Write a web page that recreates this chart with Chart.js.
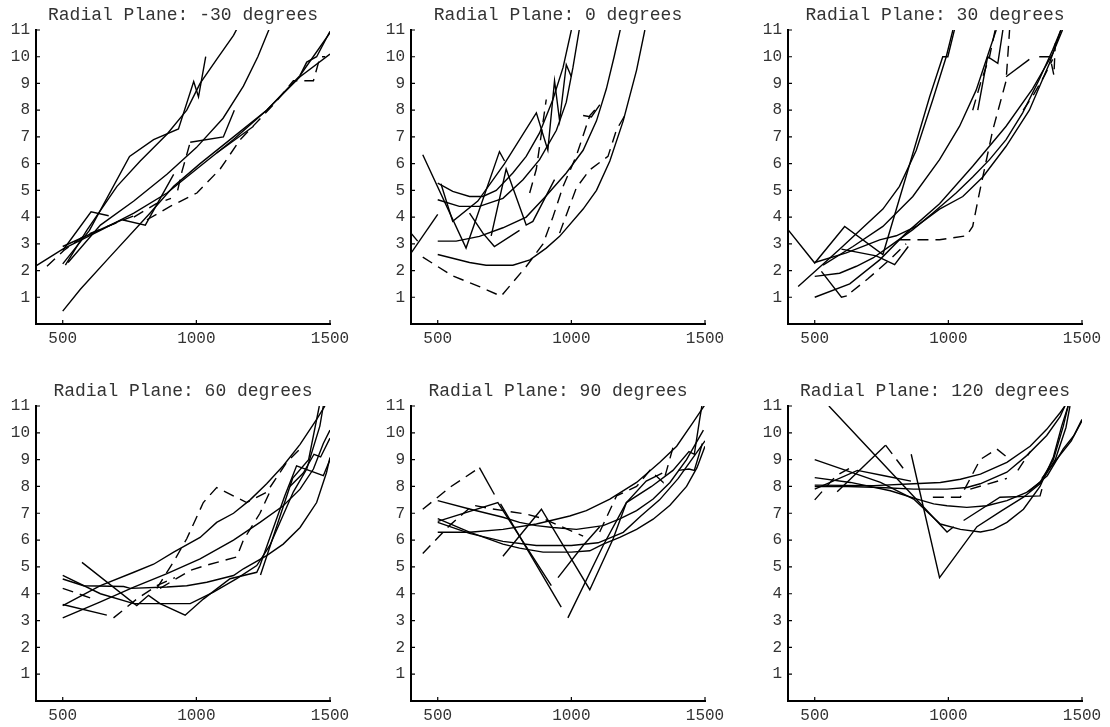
<!DOCTYPE html>
<html>
<head>
<meta charset="utf-8">
<script src="https://cdn.jsdelivr.net/npm/chart.js@4.4.1/dist/chart.umd.min.js"></script>
<style>
  body { margin: 0; background: #fff; width: 1110px; height: 727px; overflow: hidden; position: relative; }
  canvas { position: absolute; }
</style>
</head>
<body>
<canvas id="c0"></canvas>
<canvas id="c1"></canvas>
<canvas id="c2"></canvas>
<canvas id="c3"></canvas>
<canvas id="c4"></canvas>
<canvas id="c5"></canvas>
<script>
// radial plane angles, one panel each
const planeAngles = [-30, 0, 30, 60, 90, 120];
const xTicks = [500, 1000, 1500];
const yTicks = [1, 2, 3, 4, 5, 6, 7, 8, 9, 10, 11];

// -30 degrees
const solidM30 = [
  [[398,2.16],[500,2.8],[641,3.5],[766,4.15],[890,4.9],[1014,5.9],[1139,6.9],[1263,8.0],[1388,9.25],[1500,10.1]],
  [[500,0.48],[566,1.3],[678,2.53],[827,4.15],[915,5.15],[1014,6.0],[1139,7.0],[1263,8.0],[1388,9.3],[1500,10.9]],
  [[510,2.2],[590,3.5],[703,5.15],[790,6.1],[890,7.1],[964,8.0],[1014,9.0],[1076,9.9],[1139,10.8],[1160,11.2]],
  [[500,2.25],[600,3.5],[750,6.27],[840,6.9],[933,7.3],[990,9.07],[1008,8.5],[1035,10.0]],
  [[500,2.75],[606,4.2],[672,4.05]],
  [[520,2.3],[641,3.7],[766,4.6],[890,5.6],[1000,6.6],[1100,7.7],[1176,8.9],[1230,10.0],[1275,11.1]],
  [[500,2.9],[722,3.9],[809,3.7],[915,5.6]],
  [[977,6.8],[1101,7.0],[1142,8.0]],
  [[1076,6.4],[1214,7.4]],
  [[1388,9.3],[1413,9.8],[1450,10.0],[1500,10.95]]
];
const dashedM30 = [
  [[441,2.16],[504,2.75],[580,3.3],[680,3.7],[766,4.05]],
  [[815,3.9],[902,4.4],[1002,4.9],[1089,5.8],[1164,6.9],[1288,8.2],[1363,9.1],[1438,9.1],[1463,10.0],[1482,10.0]],
  [[766,4.0],[850,4.5],[905,4.7]],
  [[930,5.0],[946,5.7],[977,6.8]]
];

// 0 degrees
const solid0 = [
  [[500,2.6],[619,2.3],[681,2.2],[781,2.2],[845,2.4],[906,2.84],[956,3.28],[1044,4.3],[1094,5.0],[1144,6.1],[1194,7.6],[1244,9.5],[1275,11]],
  [[500,3.1],[569,3.1],[656,3.28],[744,3.6],[831,4.0],[906,4.8],[981,5.65],[1044,6.5],[1094,7.6],[1131,8.8],[1160,10.0],[1185,11.1]],
  [[500,4.65],[581,4.4],[656,4.4],[744,4.7],[819,5.4],[881,6.15],[944,7.25],[981,8.3],[1006,9.6],[1031,11.1]],
  [[500,5.27],[556,4.96],[619,4.77],[669,4.77],[719,5.0],[781,5.65],[831,6.27],[881,7.15],[931,8.4],[969,9.6],[1000,11]],
  [[444,6.33],[606,2.84],[731,6.45],[750,6.1]],
  [[512,5.25],[556,3.84],[650,4.6],[750,6.0],[869,7.9],[912,6.5],[937,9.1],[956,7.6],[981,9.7],[1000,9.25]],
  [[700,3.3],[756,5.8],[831,3.7],[856,3.84],[937,5.4]],
  [[400,2.65],[500,4.1]],
  [[400,3.4],[425,3.1]],
  [[619,4.15],[669,3.4],[712,2.9],[806,3.5]],
  [[1044,7.8],[1075,7.75],[1106,8.2]]
];
const dashed0 = [
  [[444,2.5],[556,1.8],[656,1.4],[737,1.04],[831,2.15],[894,3.0],[931,4.0],[969,5.15],[1019,6.3],[1069,7.8],[1106,8.2]],
  [[844,4.9],[869,5.8],[906,8.4]],
  [[956,3.4],[1019,5.1],[1069,5.77],[1137,6.27],[1169,7.27],[1200,7.8]]
];

// 30 degrees
const solid30 = [
  [[400,3.53],[500,2.28],[612,3.65],[755,2.6],[850,5.8],[930,8.5],[979,10],[998,10],[1025,11.1]],
  [[438,1.4],[593,2.8],[755,4.3],[817,5.15],[880,6.5],[942,8.4],[992,10],[1017,11]],
  [[500,1.78],[593,1.9],[656,2.16],[718,2.47],[793,3.0],[867,3.53],[942,4.15],[1029,4.9],[1091,5.5],[1154,6.15],[1216,6.9],[1278,7.9],[1340,9.15],[1390,10.25],[1421,11]],
  [[500,1.0],[631,1.5],[743,2.4],[842,3.4],[967,4.5],[1091,5.9],[1216,7.4],[1315,8.8],[1390,10.1],[1427,11]],
  [[500,2.3],[618,2.66],[743,3.15],[805,3.3],[880,3.65],[967,4.3],[1054,4.77],[1129,5.5],[1216,6.65],[1303,8.0],[1378,9.75],[1421,11]],
  [[531,2.2],[643,2.9],[755,3.65],[867,4.77],[967,6.15],[1042,7.4],[1104,8.75],[1154,10.25],[1179,11]],
  [[1110,8.0],[1147,10],[1185,9.75],[1204,11]],
  [[525,1.97],[600,1.0],[620,1.05]],
  [[1216,9.25],[1303,9.9]],
  [[600,2.8],[730,2.55],[799,2.22],[850,2.9]]
];
const dashed30 = [
  [[637,1.2],[700,1.7],[780,2.4],[842,3.0]],
  [[817,3.15],[967,3.15],[1067,3.3],[1091,3.65],[1116,4.9],[1166,7.25],[1216,9.1],[1229,11]],
  [[1091,8.0],[1120,9.0],[1154,10],[1175,11]],
  [[1340,10],[1380,10],[1395,9.3],[1400,10.5]],
  [[1280,8.0],[1320,8.6],[1360,9.3],[1390,9.9]]
];

// 60 degrees
const solid60 = [
  [[500,3.56],[641,4.3],[766,4.8],[840,5.1],[915,5.55],[1014,6.1],[1076,6.66],[1139,7.0],[1201,7.5],[1263,8.1],[1325,8.77],[1388,9.57],[1450,10.5],[1481,11]],
  [[500,3.1],[641,3.7],[766,4.25],[890,4.75],[1014,5.3],[1139,6.0],[1238,6.66],[1325,7.28],[1388,7.9],[1438,8.65],[1475,9.6],[1500,10.1]],
  [[500,4.55],[578,4.3],[728,4.27],[753,4.2],[890,4.25],[964,4.3],[1039,4.43],[1139,4.68],[1176,4.93],[1263,5.42],[1325,5.85],[1388,6.47],[1450,7.4],[1487,8.52],[1500,9.08]],
  [[500,4.68],[641,4.0],[766,3.63],[840,3.63],[977,3.63],[1064,4.06],[1151,4.56],[1226,5.05],[1275,5.8],[1363,7.8],[1413,8.65],[1462,10.25],[1475,11]],
  [[572,5.17],[777,3.56],[821,3.94],[864,3.63],[958,3.2],[1026,3.8],[1126,4.56],[1226,4.8],[1238,5.05],[1331,7.65],[1375,8.77],[1475,8.4],[1500,9.0]],
  [[500,3.6],[665,3.2]],
  [[1350,8.0],[1400,8.5],[1440,9.2],[1465,9.1],[1500,9.8]],
  [[1240,4.7],[1300,6.5],[1360,8.3],[1420,9.0],[1460,11]]
];
const dashed60 = [
  [[500,4.2],[616,3.8]],
  [[690,3.1],[777,3.8],[852,4.3],[920,4.6]],
  [[852,4.2],[915,5.2],[964,6.05],[1026,7.4],[1076,7.96],[1188,7.4],[1263,7.78],[1338,8.9],[1388,9.4]],
  [[864,4.2],[977,4.87],[1033,5.05],[1151,5.37],[1176,6.0],[1238,7.0],[1275,7.8]]
];

// 90 degrees
const solid90 = [
  [[500,7.47],[619,7.16],[744,6.85],[806,6.66],[869,6.54],[931,6.47],[1019,6.4],[1119,6.54],[1181,6.79],[1244,7.1],[1306,7.53],[1369,8.15],[1431,9.0],[1494,10.1]],
  [[500,6.29],[619,6.29],[744,6.4],[869,6.6],[994,6.9],[1056,7.1],[1144,7.53],[1244,8.15],[1331,8.9],[1394,9.5],[1456,10.4],[1500,11.05]],
  [[500,6.8],[619,6.3],[744,5.85],[806,5.7],[894,5.55],[1000,5.55],[1069,5.6],[1119,5.85],[1181,6.1],[1244,6.4],[1306,6.78],[1369,7.3],[1431,8.0],[1470,8.7],[1500,9.5]],
  [[500,6.66],[619,6.25],[744,5.95],[869,5.8],[1000,5.8],[1100,5.9],[1194,6.29],[1260,6.9],[1330,7.5],[1400,8.3],[1450,9.0],[1500,9.7]],
  [[656,8.7],[712,7.7]],
  [[500,6.7],[725,7.4],[925,4.3]],
  [[735,7.35],[962,3.5]],
  [[744,5.4],[888,7.15],[1069,4.15],[1156,6.04],[1206,7.4],[1280,8.2],[1340,8.5]],
  [[987,3.1],[1119,5.8],[1206,7.4],[1300,8.0],[1380,8.6],[1440,9.3],[1460,9.2],[1480,10.5],[1490,11.1]],
  [[950,4.6],[1044,5.8],[1106,6.5]],
  [[1400,8.6],[1440,8.65],[1460,8.6],[1490,9.6]]
];
const dashed90 = [
  [[444,7.15],[550,8.0],[656,8.7]],
  [[444,5.5],[544,6.54],[631,7.3],[706,7.16],[831,6.97],[894,6.8],[1044,6.15]],
  [[1106,6.3],[1169,7.65],[1244,8.0],[1294,8.6],[1344,8.15],[1387,9.7]]
];

// 120 degrees
const solid120 = [
  [[553,11],[995,6.3],[1020,6.5]],
  [[861,9.2],[967,4.6],[1107,6.5],[1200,7.1],[1281,7.6],[1343,8.1],[1400,9.0],[1440,10.2],[1455,11]],
  [[500,9.0],[746,8.15],[870,7.53],[970,6.6],[1045,6.4],[1120,6.3],[1169,6.4],[1219,6.66],[1281,7.15],[1343,8.0],[1393,9.1],[1424,10.25],[1448,11]],
  [[500,8.33],[634,8.15],[783,7.84],[883,7.53],[945,7.35],[995,7.28],[1069,7.22],[1144,7.28],[1219,7.47],[1293,7.78],[1343,8.15],[1393,9.0],[1430,10.25],[1448,11]],
  [[500,8.05],[721,8.03],[870,8.1],[970,8.15],[1045,8.27],[1120,8.46],[1219,8.9],[1306,9.5],[1368,10.13],[1418,10.75],[1436,11]],
  [[500,8.0],[624,8.0],[746,7.96],[870,7.9],[995,7.9],[1069,7.96],[1119,8.1],[1219,8.53],[1293,9.15],[1368,9.9],[1418,10.6],[1436,11]],
  [[584,7.8],[765,9.54]],
  [[500,7.9],[660,8.6],[760,8.4],[860,8.2]],
  [[1057,6.73],[1193,7.6],[1343,7.65],[1350,7.9]],
  [[1300,7.8],[1370,8.4],[1430,9.4],[1470,9.9],[1500,10.45]],
  [[1350,8.3],[1420,9.2],[1460,9.7],[1500,10.5]]
];
const dashed120 = [
  [[500,7.5],[580,8.4],[634,8.7]],
  [[765,9.54],[833,8.65]],
  [[942,7.6],[1045,7.6],[1119,9.0],[1181,9.4],[1231,9.0]],
  [[1082,7.9],[1219,8.3]],
  [[1260,8.6],[1306,9.3]]
];

const solidSets = [solidM30, solid0, solid30, solid60, solid90, solid120];
const dashedSets = [dashedM30, dashed0, dashed30, dashed60, dashed90, dashed120];

// where each panel canvas sits on the page
const colLeft = [8, 383, 760];
const rowTop = [0, 376];
const rowHeight = [350, 351];

const monoFont = "'Liberation Mono', 'Courier New', monospace";

// small inward tick marks like the original frame
const innerTicks = {
  id: "innerTicks",
  afterDraw(chart) {
    const { ctx, chartArea: a, scales } = chart;
    ctx.save();
    ctx.strokeStyle = "#000";
    ctx.lineWidth = 1.2;
    ctx.beginPath();
    xTicks.forEach((v) => {
      const px = scales.x.getPixelForValue(v);
      ctx.moveTo(px, a.bottom);
      ctx.lineTo(px, a.bottom - 4);
    });
    yTicks.forEach((v) => {
      const py = scales.y.getPixelForValue(v);
      ctx.moveTo(a.left, py);
      ctx.lineTo(a.left + 4, py);
    });
    ctx.stroke();
    ctx.restore();
  },
};

function toDataset(points, dashed) {
  return {
    data: points.map(([x, y]) => ({ x, y })),
    borderColor: "#000",
    borderWidth: 1.4,
    borderDash: dashed ? [11, 7] : [],
    pointRadius: 0,
    fill: false,
    tension: 0,
  };
}

planeAngles.forEach((angle, i) => {
  const canvas = document.getElementById("c" + i);
  const row = Math.floor(i / 3);
  const col = i % 3;
  canvas.width = 350;
  canvas.height = rowHeight[row];
  canvas.style.left = colLeft[col] + "px";
  canvas.style.top = rowTop[row] + "px";

  const datasets = solidSets[i].map((s) => toDataset(s, false))
    .concat(dashedSets[i].map((s) => toDataset(s, true)));

  new Chart(canvas, {
    type: "line",
    data: { datasets },
    plugins: [innerTicks],
    options: {
      responsive: false,
      animation: false,
      devicePixelRatio: 1,
      layout: { padding: { left: 0, right: 28, top: 0, bottom: 0 } },
      plugins: {
        legend: { display: false },
        tooltip: { enabled: false },
        title: {
          display: true,
          fullSize: false,
          text: "Radial Plane: " + angle + " degrees",
          color: "#333",
          font: { family: monoFont, size: 18, weight: "normal" },
          padding: { top: 4.5, bottom: 3.9 },
        },
      },
      scales: {
        x: {
          type: "linear",
          min: 400,
          max: 1500,
          afterBuildTicks: (s) => { s.ticks = xTicks.map((v) => ({ value: v })); },
          afterFit: (s) => { s.height = 26; },
          grid: { display: false, drawTicks: false },
          border: { display: true, color: "#000", width: 2 },
          ticks: {
            color: "#333",
            font: { family: monoFont, size: 16 },
            padding: 5,
            maxRotation: 0,
            autoSkip: false,
            callback: (v) => String(v),
          },
        },
        y: {
          type: "linear",
          min: 0,
          max: 11,
          afterBuildTicks: (s) => { s.ticks = yTicks.map((v) => ({ value: v })); },
          afterFit: (s) => { s.width = 28; },
          grid: { display: false, drawTicks: false },
          border: { display: true, color: "#000", width: 2 },
          ticks: {
            color: "#333",
            font: { family: monoFont, size: 16 },
            padding: 6,
            autoSkip: false,
            callback: (v) => String(v),
          },
        },
      },
    },
  });
});
</script>
</body>
</html>
